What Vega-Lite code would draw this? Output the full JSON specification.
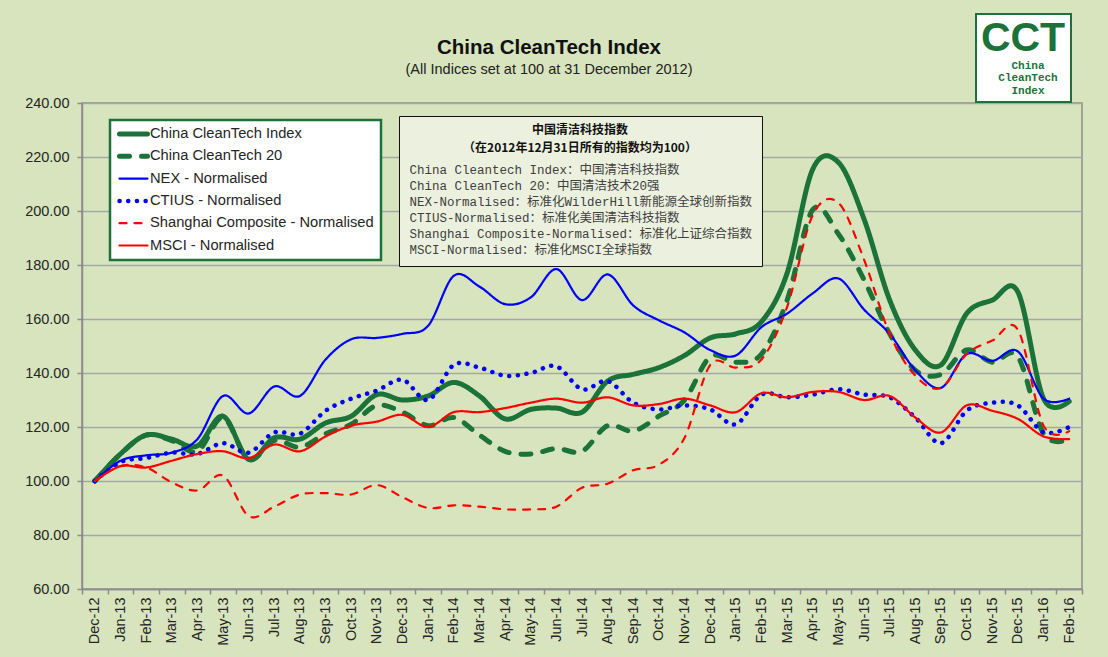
{
  "$schema": "https://vega.github.io/schema/vega-lite/v6.json",
  "width": 1000,
  "height": 486,
  "autosize": {"type": "none"},
  "padding": {"left": 82, "top": 103, "right": 26, "bottom": 68},
  "background": "#D7E4BD",
  "title": {
    "text": "China CleanTech Index",
    "subtitle": "(All Indices set at 100 at 31 December 2012)",
    "anchor": "middle", "frame": "group", "dx": -33, "dy": 90, "offset": 27,
    "font": "Liberation Sans", "fontSize": 20.5, "fontWeight": "bold", "color": "#111111",
    "subtitleFont": "Liberation Sans", "subtitleFontSize": 14.5, "subtitleColor": "#222222", "subtitlePadding": 4
  },
  "config": {
    "view": {"fill": "white", "stroke": "#8C8C8C", "strokeWidth": 1.5}
  },
  "datasets": {
    "series": [
      {"month":"Dec-12","series":"China CleanTech Index","value":100},
      {"month":"Jan-13","series":"China CleanTech Index","value":110},
      {"month":"Feb-13","series":"China CleanTech Index","value":117},
      {"month":"Mar-13","series":"China CleanTech Index","value":115.5},
      {"month":"Apr-13","series":"China CleanTech Index","value":113},
      {"month":"May-13","series":"China CleanTech Index","value":124},
      {"month":"Jun-13","series":"China CleanTech Index","value":108},
      {"month":"Jul-13","series":"China CleanTech Index","value":116},
      {"month":"Aug-13","series":"China CleanTech Index","value":115.5},
      {"month":"Sep-13","series":"China CleanTech Index","value":121.5},
      {"month":"Oct-13","series":"China CleanTech Index","value":124},
      {"month":"Nov-13","series":"China CleanTech Index","value":132},
      {"month":"Dec-13","series":"China CleanTech Index","value":130},
      {"month":"Jan-14","series":"China CleanTech Index","value":131.5},
      {"month":"Feb-14","series":"China CleanTech Index","value":136.5},
      {"month":"Mar-14","series":"China CleanTech Index","value":131.5},
      {"month":"Apr-14","series":"China CleanTech Index","value":123},
      {"month":"May-14","series":"China CleanTech Index","value":126.5},
      {"month":"Jun-14","series":"China CleanTech Index","value":127},
      {"month":"Jul-14","series":"China CleanTech Index","value":125.5},
      {"month":"Aug-14","series":"China CleanTech Index","value":137},
      {"month":"Sep-14","series":"China CleanTech Index","value":139.5},
      {"month":"Oct-14","series":"China CleanTech Index","value":142},
      {"month":"Nov-14","series":"China CleanTech Index","value":146.5},
      {"month":"Dec-14","series":"China CleanTech Index","value":153},
      {"month":"Jan-15","series":"China CleanTech Index","value":154.5},
      {"month":"Feb-15","series":"China CleanTech Index","value":159},
      {"month":"Mar-15","series":"China CleanTech Index","value":177},
      {"month":"Apr-15","series":"China CleanTech Index","value":215.5},
      {"month":"May-15","series":"China CleanTech Index","value":218},
      {"month":"Jun-15","series":"China CleanTech Index","value":197},
      {"month":"Jul-15","series":"China CleanTech Index","value":167},
      {"month":"Aug-15","series":"China CleanTech Index","value":148.5},
      {"month":"Sep-15","series":"China CleanTech Index","value":143},
      {"month":"Oct-15","series":"China CleanTech Index","value":162},
      {"month":"Nov-15","series":"China CleanTech Index","value":167},
      {"month":"Dec-15","series":"China CleanTech Index","value":170},
      {"month":"Jan-16","series":"China CleanTech Index","value":130.5},
      {"month":"Feb-16","series":"China CleanTech Index","value":129.5},

      {"month":"Dec-12","series":"China CleanTech 20","value":100},
      {"month":"Jan-13","series":"China CleanTech 20","value":110},
      {"month":"Feb-13","series":"China CleanTech 20","value":117},
      {"month":"Mar-13","series":"China CleanTech 20","value":115},
      {"month":"Apr-13","series":"China CleanTech 20","value":111},
      {"month":"May-13","series":"China CleanTech 20","value":123.5},
      {"month":"Jun-13","series":"China CleanTech 20","value":108},
      {"month":"Jul-13","series":"China CleanTech 20","value":115},
      {"month":"Aug-13","series":"China CleanTech 20","value":112.5},
      {"month":"Sep-13","series":"China CleanTech 20","value":117.5},
      {"month":"Oct-13","series":"China CleanTech 20","value":121},
      {"month":"Nov-13","series":"China CleanTech 20","value":128},
      {"month":"Dec-13","series":"China CleanTech 20","value":125.5},
      {"month":"Jan-14","series":"China CleanTech 20","value":120.5},
      {"month":"Feb-14","series":"China CleanTech 20","value":123.5},
      {"month":"Mar-14","series":"China CleanTech 20","value":117},
      {"month":"Apr-14","series":"China CleanTech 20","value":111},
      {"month":"May-14","series":"China CleanTech 20","value":110},
      {"month":"Jun-14","series":"China CleanTech 20","value":112},
      {"month":"Jul-14","series":"China CleanTech 20","value":111},
      {"month":"Aug-14","series":"China CleanTech 20","value":120.5},
      {"month":"Sep-14","series":"China CleanTech 20","value":118.5},
      {"month":"Oct-14","series":"China CleanTech 20","value":124},
      {"month":"Nov-14","series":"China CleanTech 20","value":130},
      {"month":"Dec-14","series":"China CleanTech 20","value":146},
      {"month":"Jan-15","series":"China CleanTech 20","value":144},
      {"month":"Feb-15","series":"China CleanTech 20","value":147},
      {"month":"Mar-15","series":"China CleanTech 20","value":167},
      {"month":"Apr-15","series":"China CleanTech 20","value":200.5},
      {"month":"May-15","series":"China CleanTech 20","value":191.5},
      {"month":"Jun-15","series":"China CleanTech 20","value":174.5},
      {"month":"Jul-15","series":"China CleanTech 20","value":154.5},
      {"month":"Aug-15","series":"China CleanTech 20","value":141},
      {"month":"Sep-15","series":"China CleanTech 20","value":139.5},
      {"month":"Oct-15","series":"China CleanTech 20","value":148.5},
      {"month":"Nov-15","series":"China CleanTech 20","value":144},
      {"month":"Dec-15","series":"China CleanTech 20","value":146},
      {"month":"Jan-16","series":"China CleanTech 20","value":117.5},
      {"month":"Feb-16","series":"China CleanTech 20","value":115.5},

      {"month":"Dec-12","series":"NEX - Normalised","value":100},
      {"month":"Jan-13","series":"NEX - Normalised","value":107.5},
      {"month":"Feb-13","series":"NEX - Normalised","value":109.5},
      {"month":"Mar-13","series":"NEX - Normalised","value":110.5},
      {"month":"Apr-13","series":"NEX - Normalised","value":115.5},
      {"month":"May-13","series":"NEX - Normalised","value":131.5},
      {"month":"Jun-13","series":"NEX - Normalised","value":125},
      {"month":"Jul-13","series":"NEX - Normalised","value":135},
      {"month":"Aug-13","series":"NEX - Normalised","value":131.5},
      {"month":"Sep-13","series":"NEX - Normalised","value":145},
      {"month":"Oct-13","series":"NEX - Normalised","value":152.5},
      {"month":"Nov-13","series":"NEX - Normalised","value":153},
      {"month":"Dec-13","series":"NEX - Normalised","value":154.5},
      {"month":"Jan-14","series":"NEX - Normalised","value":157.5},
      {"month":"Feb-14","series":"NEX - Normalised","value":176},
      {"month":"Mar-14","series":"NEX - Normalised","value":172},
      {"month":"Apr-14","series":"NEX - Normalised","value":165.5},
      {"month":"May-14","series":"NEX - Normalised","value":168},
      {"month":"Jun-14","series":"NEX - Normalised","value":178.5},
      {"month":"Jul-14","series":"NEX - Normalised","value":167},
      {"month":"Aug-14","series":"NEX - Normalised","value":176.5},
      {"month":"Sep-14","series":"NEX - Normalised","value":165},
      {"month":"Oct-14","series":"NEX - Normalised","value":159.5},
      {"month":"Nov-14","series":"NEX - Normalised","value":155},
      {"month":"Dec-14","series":"NEX - Normalised","value":148.5},
      {"month":"Jan-15","series":"NEX - Normalised","value":146.5},
      {"month":"Feb-15","series":"NEX - Normalised","value":157},
      {"month":"Mar-15","series":"NEX - Normalised","value":162},
      {"month":"Apr-15","series":"NEX - Normalised","value":169.5},
      {"month":"May-15","series":"NEX - Normalised","value":175},
      {"month":"Jun-15","series":"NEX - Normalised","value":163.5},
      {"month":"Jul-15","series":"NEX - Normalised","value":154.5},
      {"month":"Aug-15","series":"NEX - Normalised","value":141},
      {"month":"Sep-15","series":"NEX - Normalised","value":134.5},
      {"month":"Oct-15","series":"NEX - Normalised","value":147},
      {"month":"Nov-15","series":"NEX - Normalised","value":144.5},
      {"month":"Dec-15","series":"NEX - Normalised","value":148},
      {"month":"Jan-16","series":"NEX - Normalised","value":130.5},
      {"month":"Feb-16","series":"NEX - Normalised","value":130.5},

      {"month":"Dec-12","series":"CTIUS - Normalised","value":100},
      {"month":"Jan-13","series":"CTIUS - Normalised","value":107},
      {"month":"Feb-13","series":"CTIUS - Normalised","value":108.5},
      {"month":"Mar-13","series":"CTIUS - Normalised","value":110.5},
      {"month":"Apr-13","series":"CTIUS - Normalised","value":110},
      {"month":"May-13","series":"CTIUS - Normalised","value":114},
      {"month":"Jun-13","series":"CTIUS - Normalised","value":110.5},
      {"month":"Jul-13","series":"CTIUS - Normalised","value":118},
      {"month":"Aug-13","series":"CTIUS - Normalised","value":117.5},
      {"month":"Sep-13","series":"CTIUS - Normalised","value":126},
      {"month":"Oct-13","series":"CTIUS - Normalised","value":130.5},
      {"month":"Nov-13","series":"CTIUS - Normalised","value":133.5},
      {"month":"Dec-13","series":"CTIUS - Normalised","value":137.5},
      {"month":"Jan-14","series":"CTIUS - Normalised","value":130},
      {"month":"Feb-14","series":"CTIUS - Normalised","value":143},
      {"month":"Mar-14","series":"CTIUS - Normalised","value":142},
      {"month":"Apr-14","series":"CTIUS - Normalised","value":139},
      {"month":"May-14","series":"CTIUS - Normalised","value":140},
      {"month":"Jun-14","series":"CTIUS - Normalised","value":142.5},
      {"month":"Jul-14","series":"CTIUS - Normalised","value":134},
      {"month":"Aug-14","series":"CTIUS - Normalised","value":137},
      {"month":"Sep-14","series":"CTIUS - Normalised","value":129},
      {"month":"Oct-14","series":"CTIUS - Normalised","value":126.5},
      {"month":"Nov-14","series":"CTIUS - Normalised","value":128},
      {"month":"Dec-14","series":"CTIUS - Normalised","value":126.5},
      {"month":"Jan-15","series":"CTIUS - Normalised","value":121},
      {"month":"Feb-15","series":"CTIUS - Normalised","value":132},
      {"month":"Mar-15","series":"CTIUS - Normalised","value":131},
      {"month":"Apr-15","series":"CTIUS - Normalised","value":132},
      {"month":"May-15","series":"CTIUS - Normalised","value":134},
      {"month":"Jun-15","series":"CTIUS - Normalised","value":132},
      {"month":"Jul-15","series":"CTIUS - Normalised","value":131},
      {"month":"Aug-15","series":"CTIUS - Normalised","value":123.5},
      {"month":"Sep-15","series":"CTIUS - Normalised","value":114},
      {"month":"Oct-15","series":"CTIUS - Normalised","value":126},
      {"month":"Nov-15","series":"CTIUS - Normalised","value":129},
      {"month":"Dec-15","series":"CTIUS - Normalised","value":128},
      {"month":"Jan-16","series":"CTIUS - Normalised","value":118},
      {"month":"Feb-16","series":"CTIUS - Normalised","value":120},

      {"month":"Dec-12","series":"Shanghai Composite - Normalised","value":100},
      {"month":"Jan-13","series":"Shanghai Composite - Normalised","value":105.5},
      {"month":"Feb-13","series":"Shanghai Composite - Normalised","value":105},
      {"month":"Mar-13","series":"Shanghai Composite - Normalised","value":99.5},
      {"month":"Apr-13","series":"Shanghai Composite - Normalised","value":96.5},
      {"month":"May-13","series":"Shanghai Composite - Normalised","value":102},
      {"month":"Jun-13","series":"Shanghai Composite - Normalised","value":87},
      {"month":"Jul-13","series":"Shanghai Composite - Normalised","value":90.5},
      {"month":"Aug-13","series":"Shanghai Composite - Normalised","value":95},
      {"month":"Sep-13","series":"Shanghai Composite - Normalised","value":95.5},
      {"month":"Oct-13","series":"Shanghai Composite - Normalised","value":95},
      {"month":"Nov-13","series":"Shanghai Composite - Normalised","value":98.5},
      {"month":"Dec-13","series":"Shanghai Composite - Normalised","value":94},
      {"month":"Jan-14","series":"Shanghai Composite - Normalised","value":90},
      {"month":"Feb-14","series":"Shanghai Composite - Normalised","value":91},
      {"month":"Mar-14","series":"Shanghai Composite - Normalised","value":90.5},
      {"month":"Apr-14","series":"Shanghai Composite - Normalised","value":89.5},
      {"month":"May-14","series":"Shanghai Composite - Normalised","value":89.5},
      {"month":"Jun-14","series":"Shanghai Composite - Normalised","value":90.5},
      {"month":"Jul-14","series":"Shanghai Composite - Normalised","value":97.5},
      {"month":"Aug-14","series":"Shanghai Composite - Normalised","value":99},
      {"month":"Sep-14","series":"Shanghai Composite - Normalised","value":104},
      {"month":"Oct-14","series":"Shanghai Composite - Normalised","value":106},
      {"month":"Nov-14","series":"Shanghai Composite - Normalised","value":116},
      {"month":"Dec-14","series":"Shanghai Composite - Normalised","value":143},
      {"month":"Jan-15","series":"Shanghai Composite - Normalised","value":142},
      {"month":"Feb-15","series":"Shanghai Composite - Normalised","value":145},
      {"month":"Mar-15","series":"Shanghai Composite - Normalised","value":164.5},
      {"month":"Apr-15","series":"Shanghai Composite - Normalised","value":198.5},
      {"month":"May-15","series":"Shanghai Composite - Normalised","value":203},
      {"month":"Jun-15","series":"Shanghai Composite - Normalised","value":182},
      {"month":"Jul-15","series":"Shanghai Composite - Normalised","value":154.5},
      {"month":"Aug-15","series":"Shanghai Composite - Normalised","value":139},
      {"month":"Sep-15","series":"Shanghai Composite - Normalised","value":134.5},
      {"month":"Oct-15","series":"Shanghai Composite - Normalised","value":147},
      {"month":"Nov-15","series":"Shanghai Composite - Normalised","value":152},
      {"month":"Dec-15","series":"Shanghai Composite - Normalised","value":156},
      {"month":"Jan-16","series":"Shanghai Composite - Normalised","value":120.5},
      {"month":"Feb-16","series":"Shanghai Composite - Normalised","value":118.5},

      {"month":"Dec-12","series":"MSCI - Normalised","value":100},
      {"month":"Jan-13","series":"MSCI - Normalised","value":105.5},
      {"month":"Feb-13","series":"MSCI - Normalised","value":105},
      {"month":"Mar-13","series":"MSCI - Normalised","value":107.5},
      {"month":"Apr-13","series":"MSCI - Normalised","value":110},
      {"month":"May-13","series":"MSCI - Normalised","value":111},
      {"month":"Jun-13","series":"MSCI - Normalised","value":108.5},
      {"month":"Jul-13","series":"MSCI - Normalised","value":113.5},
      {"month":"Aug-13","series":"MSCI - Normalised","value":111},
      {"month":"Sep-13","series":"MSCI - Normalised","value":116.5},
      {"month":"Oct-13","series":"MSCI - Normalised","value":120.5},
      {"month":"Nov-13","series":"MSCI - Normalised","value":122},
      {"month":"Dec-13","series":"MSCI - Normalised","value":124.5},
      {"month":"Jan-14","series":"MSCI - Normalised","value":120},
      {"month":"Feb-14","series":"MSCI - Normalised","value":125.5},
      {"month":"Mar-14","series":"MSCI - Normalised","value":125.5},
      {"month":"Apr-14","series":"MSCI - Normalised","value":127},
      {"month":"May-14","series":"MSCI - Normalised","value":129},
      {"month":"Jun-14","series":"MSCI - Normalised","value":130.5},
      {"month":"Jul-14","series":"MSCI - Normalised","value":129},
      {"month":"Aug-14","series":"MSCI - Normalised","value":131},
      {"month":"Sep-14","series":"MSCI - Normalised","value":128},
      {"month":"Oct-14","series":"MSCI - Normalised","value":128.5},
      {"month":"Nov-14","series":"MSCI - Normalised","value":130.5},
      {"month":"Dec-14","series":"MSCI - Normalised","value":128},
      {"month":"Jan-15","series":"MSCI - Normalised","value":125.5},
      {"month":"Feb-15","series":"MSCI - Normalised","value":132.5},
      {"month":"Mar-15","series":"MSCI - Normalised","value":131},
      {"month":"Apr-15","series":"MSCI - Normalised","value":133},
      {"month":"May-15","series":"MSCI - Normalised","value":133},
      {"month":"Jun-15","series":"MSCI - Normalised","value":130},
      {"month":"Jul-15","series":"MSCI - Normalised","value":131.5},
      {"month":"Aug-15","series":"MSCI - Normalised","value":123.5},
      {"month":"Sep-15","series":"MSCI - Normalised","value":118},
      {"month":"Oct-15","series":"MSCI - Normalised","value":128},
      {"month":"Nov-15","series":"MSCI - Normalised","value":126},
      {"month":"Dec-15","series":"MSCI - Normalised","value":123},
      {"month":"Jan-16","series":"MSCI - Normalised","value":116.5},
      {"month":"Feb-16","series":"MSCI - Normalised","value":115.5}
    ],
    "notes": [
      {"note": "China Cleantech Index：中国清洁科技指数"},
      {"note": "China CleanTech 20：中国清洁技术20强"},
      {"note": "NEX-Normalised：标准化WilderHill新能源全球创新指数"},
      {"note": "CTIUS-Normalised：标准化美国清洁科技指数"},
      {"note": "Shanghai Composite-Normalised：标准化上证综合指数"},
      {"note": "MSCI-Normalised：标准化MSCI全球指数"}
    ],
    "logo": [
      {"word": "China"},
      {"word": "CleanTech"},
      {"word": "Index"}
    ]
  },
  "layer": [
    {
      "data": {"name": "series"},
      "mark": {"type": "line", "interpolate": "cardinal", "tension": 0, "strokeCap": "round", "strokeJoin": "round"},
      "encoding": {
        "x": {
          "field": "month", "type": "ordinal", "sort": null,
          "scale": {"type": "band", "paddingInner": 0, "paddingOuter": 0},
          "axis": {
            "title": null, "labelAngle": -90, "labelFont": "Liberation Sans", "labelFontSize": 14.5,
            "labelColor": "#262626", "tickBand": "extent", "tickSize": 5, "tickColor": "#8C8C8C",
            "tickWidth": 1.5, "domainColor": "#8C8C8C", "domainWidth": 1.5, "labelPadding": 3, "grid": false
          }
        },
        "y": {
          "field": "value", "type": "quantitative",
          "scale": {"domain": [60, 240], "nice": false, "zero": false},
          "axis": {
            "title": null, "values": [60, 80, 100, 120, 140, 160, 180, 200, 220, 240], "format": ".2f",
            "labelFont": "Liberation Sans", "labelFontSize": 14.5, "labelColor": "#262626",
            "tickSize": 5, "tickColor": "#8C8C8C", "tickWidth": 1.5, "domainColor": "#8C8C8C", "domainWidth": 1.5,
            "gridColor": "#A6A6A6", "gridWidth": 1.6, "labelPadding": 8
          }
        },
        "color": {
          "field": "series", "type": "nominal",
          "sort": ["China CleanTech Index", "China CleanTech 20", "NEX - Normalised", "CTIUS - Normalised", "Shanghai Composite - Normalised", "MSCI - Normalised"],
          "scale": {
            "domain": ["China CleanTech Index", "China CleanTech 20", "NEX - Normalised", "CTIUS - Normalised", "Shanghai Composite - Normalised", "MSCI - Normalised"],
            "range": ["#1B7339", "#1B7339", "#0000FF", "#0000FF", "#FF0000", "#FF0000"]
          },
          "legend": {
            "title": null, "orient": "none", "legendX": 28, "legendY": 17,
            "fillColor": "white", "strokeColor": "#1B7339", "padding": 7,
            "symbolType": "stroke", "symbolSize": 784,
            "labelFont": "Liberation Sans", "labelFontSize": 14.7, "labelColor": "#262626",
            "labelOffset": 0, "rowPadding": 7.3, "clipHeight": 14, "labelLimit": 300,
            "encode": {
              "legend": {"update": {"strokeWidth": {"value": 2.5}}},
              "symbols": {"update": {"strokeCap": {"value": "round"}}}
            }
          }
        },
        "strokeDash": {
          "field": "series", "type": "nominal",
          "sort": ["China CleanTech Index", "China CleanTech 20", "NEX - Normalised", "CTIUS - Normalised", "Shanghai Composite - Normalised", "MSCI - Normalised"],
          "scale": {
            "domain": ["China CleanTech Index", "China CleanTech 20", "NEX - Normalised", "CTIUS - Normalised", "Shanghai Composite - Normalised", "MSCI - Normalised"],
            "range": [[1, 0], [10, 12], [1, 0], [0.1, 8.6], [7, 8], [1, 0]]
          }
        },
        "strokeWidth": {
          "field": "series", "type": "nominal",
          "sort": ["China CleanTech Index", "China CleanTech 20", "NEX - Normalised", "CTIUS - Normalised", "Shanghai Composite - Normalised", "MSCI - Normalised"],
          "scale": {
            "type": "ordinal",
            "domain": ["China CleanTech Index", "China CleanTech 20", "NEX - Normalised", "CTIUS - Normalised", "Shanghai Composite - Normalised", "MSCI - Normalised"],
            "range": [5, 5, 2.2, 4.5, 2.2, 2.2]
          }
        }
      }
    },
    {
      "data": {"name": "notes"},
      "mark": {"type": "point", "opacity": 0, "size": 0},
      "encoding": {
        "shape": {
          "field": "note", "type": "nominal", "sort": null,
          "legend": {
            "title": ["中国清洁科技指数", "（在2012年12月31日所有的指数均为100）"],
            "orient": "none", "legendX": 317, "legendY": 13,
            "fillColor": "#EBF1DE", "strokeColor": "#111111", "padding": 9,
            "titleFont": "Noto Sans CJK SC", "titleFontSize": 12, "titleFontWeight": "bold", "titleColor": "#111111",
            "titleAnchor": "middle", "titleAlign": "center", "titleLineHeight": 17.5, "titlePadding": 9, "titleLimit": 500,
            "symbolSize": 0, "symbolOpacity": 0, "symbolStrokeWidth": 0,
            "labelOffset": -11, "labelFont": "Liberation Mono, Noto Sans CJK SC", "labelFontSize": 12.5,
            "labelColor": "#404040", "rowPadding": 3.1, "clipHeight": 12.5, "labelLimit": 420,
            "encode": {"legend": {"update": {"strokeWidth": {"value": 2}}}}
          }
        }
      }
    },
    {
      "data": {"name": "logo"},
      "mark": {"type": "point", "opacity": 0, "size": 0, "filled": true},
      "encoding": {
        "fill": {
          "field": "word", "type": "nominal", "sort": null,
          "legend": {
            "title": "CCT", "orient": "none", "legendX": 894, "legendY": -89,
            "fillColor": "white", "strokeColor": "#1B7339", "padding": 5,
            "titleFont": "Liberation Sans", "titleFontSize": 41, "titleFontWeight": 900, "titleColor": "#1B7339",
            "titleAnchor": "middle", "titleAlign": "center", "titlePadding": 0,
            "symbolSize": 0, "symbolOpacity": 0, "symbolStrokeWidth": 0,
            "labelFont": "Liberation Mono", "labelFontSize": 11, "labelFontWeight": "bold", "labelColor": "#1B7339",
            "labelAlign": "center", "labelOffset": 28, "rowPadding": 0.8, "clipHeight": 11,
            "encode": {"legend": {"update": {"strokeWidth": {"value": 2}}}}
          }
        }
      }
    }
  ]
}
